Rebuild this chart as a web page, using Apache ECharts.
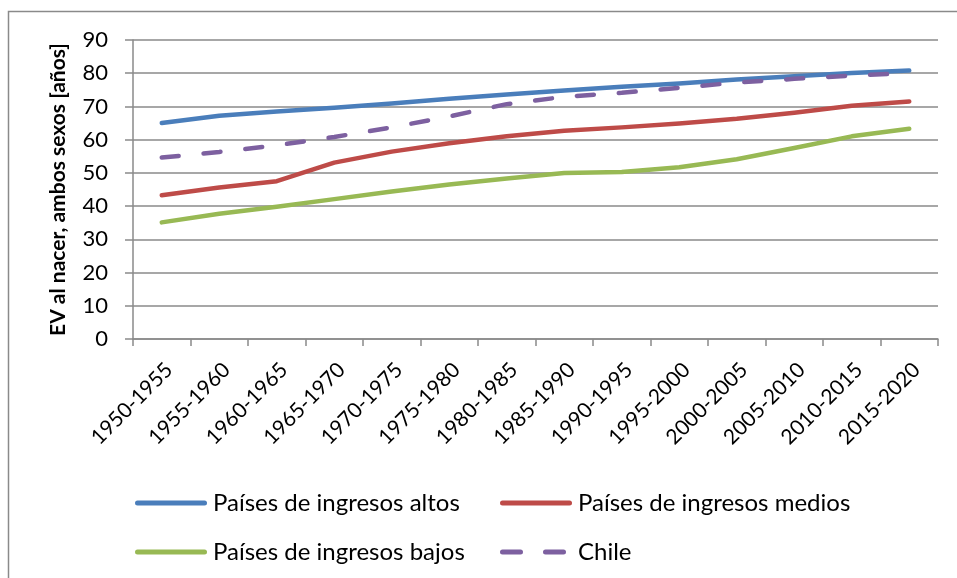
<!DOCTYPE html>
<html>
<head>
<meta charset="utf-8">
<script src="https://cdn.jsdelivr.net/npm/echarts@6/dist/echarts.min.js"></script>
<style>
html,body{margin:0;padding:0;background:#fff;}
#chart{width:957px;height:578px;}
</style>
</head>
<body>
<div id="chart"></div>
<script>
const categories = ['1950-1955','1955-1960','1960-1965','1965-1970','1970-1975','1975-1980','1980-1985','1985-1990','1990-1995','1995-2000','2000-2005','2005-2010','2010-2015','2015-2020'];
const altos   = [65.0, 67.2, 68.5, 69.6, 70.9, 72.3, 73.6, 74.8, 75.9, 76.9, 78.1, 79.1, 80.1, 80.8];
const medios  = [43.3, 45.6, 47.5, 53.1, 56.4, 58.9, 61.0, 62.7, 63.7, 64.9, 66.3, 68.1, 70.2, 71.5];
const bajos   = [35.1, 37.7, 39.8, 42.1, 44.4, 46.5, 48.3, 50.0, 50.3, 51.7, 54.1, 57.5, 61.0, 63.3];
const chile   = [54.6, 56.3, 58.3, 60.8, 63.7, 67.0, 70.7, 72.9, 74.1, 75.6, 77.2, 78.3, 79.3, 80.0];
const seriesNames = ['Países de ingresos altos','Países de ingresos medios','Países de ingresos bajos','Chile'];
const yTicks = {min: 0, max: 90, interval: 10};

const FONT = 'Lato';
const GRID = '#8a8a8a';
const SOLID_ICON = 'path://M2.5,0H69.5A2.5,2.5,0,0,1,69.5,5H2.5A2.5,2.5,0,0,1,2.5,0Z';
const DASH_ICON = 'path://M2.5,0H20.5A2.5,2.5,0,0,1,20.5,5H2.5A2.5,2.5,0,0,1,2.5,0Z M45.5,0H63.5A2.5,2.5,0,0,1,63.5,5H45.5A2.5,2.5,0,0,1,45.5,0Z M72,2.5L72,2.6L72,2.5Z';
const chart = echarts.init(document.getElementById('chart'), null, {renderer: 'canvas'});
function line(name, data, color, dashed) {
  return {
    name, type: 'line', data, symbol: 'none', smooth: false,
    lineStyle: dashed ? {color, width: 4.5, type: [17, 25], cap: 'round'} : {color, width: 4.5, cap: 'round', join: 'round'},
    itemStyle: {color},
    emphasis: {disabled: true}
  };
}
const legendCommon = {
  orient: 'vertical', itemWidth: 72, itemHeight: 5, itemGap: 21,
  textStyle: {fontFamily: FONT, fontSize: 24, lineHeight: 28, color: '#000', padding: [0,0,0,1]},
  selectedMode: false, top: 484
};
chart.setOption({
  animation: false,
  backgroundColor: '#fff',
  graphic: [{type: 'rect', shape: {x: 8.5, y: 11.5, width: 1200, height: 1200}, style: {fill: 'none', stroke: '#8a8a8a', lineWidth: 1.5}, silent: true}],
  grid: {left: 133, right: 19, top: 40, bottom: 239, containLabel: false},
  legend: [
    Object.assign({}, legendCommon, {left: 130, data: [{name: seriesNames[0], icon: SOLID_ICON}, {name: seriesNames[2], icon: SOLID_ICON}]}),
    Object.assign({}, legendCommon, {left: 495, data: [{name: seriesNames[1], icon: SOLID_ICON}, {name: seriesNames[3], icon: DASH_ICON}]})
  ],
  xAxis: {
    type: 'category', data: categories, boundaryGap: true,
    axisLine: {lineStyle: {color: GRID, width: 1.5}},
    axisTick: {show: true, length: 7, lineStyle: {color: GRID, width: 1.5}, interval: 0},
    axisLabel: {rotate: 45, interval: 0, fontFamily: FONT, fontSize: 21, color: '#000', margin: 20, align: 'right', verticalAlign: 'top'}
  },
  yAxis: {
    type: 'value', min: yTicks.min, max: yTicks.max, interval: yTicks.interval,
    name: 'EV al nacer, ambos sexos [años]', nameLocation: 'middle', nameGap: 64,
    nameTextStyle: {fontFamily: FONT, fontSize: 21, fontWeight: 'bold', color: '#000'},
    axisLine: {show: true, lineStyle: {color: GRID, width: 1.5}},
    axisTick: {show: true, length: 8, lineStyle: {color: GRID, width: 1.5}},
    axisLabel: {fontFamily: FONT, fontSize: 22, color: '#000', margin: 25},
    splitLine: {lineStyle: {color: GRID, width: 1.5}}
  },
  series: [
    line(seriesNames[0], altos, '#4A7EBB', false),
    line(seriesNames[1], medios, '#BE4B48', false),
    line(seriesNames[2], bajos, '#98B954', false),
    line(seriesNames[3], chile, '#7D60A0', true)
  ]
});
</script>
</body>
</html>
